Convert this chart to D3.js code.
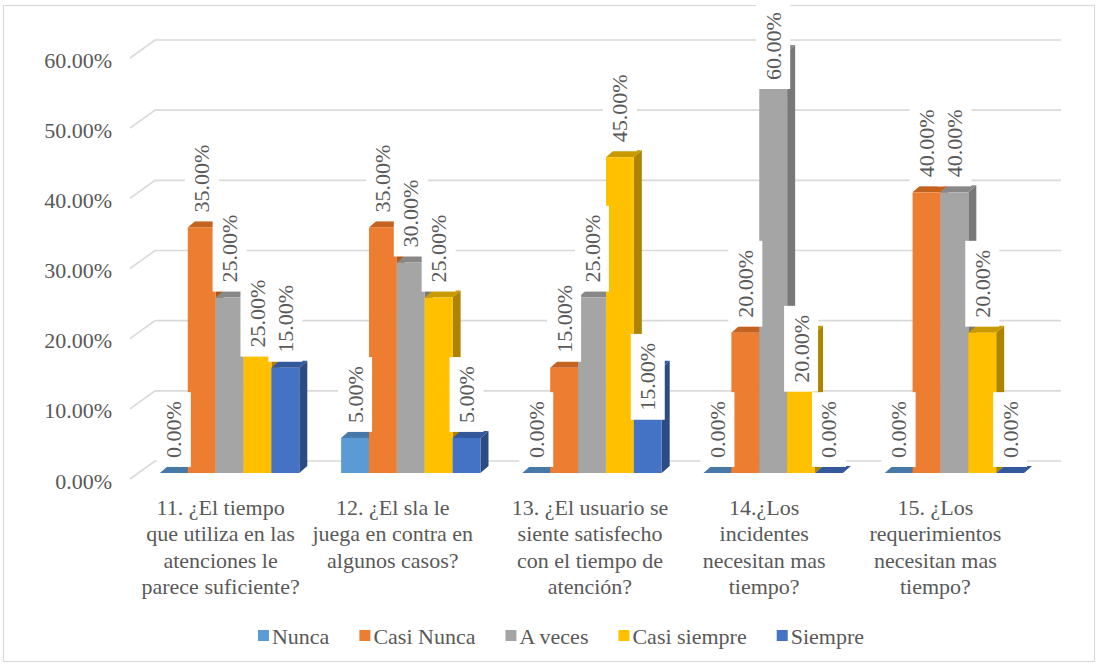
<!DOCTYPE html>
<html>
<head>
<meta charset="utf-8">
<script src="https://cdn.jsdelivr.net/npm/d3@7"></script>
<style>
  body { margin: 0; background: #fff; }
  svg { display: block; }
  svg text { font-family: "Liberation Serif", "DejaVu Serif", serif !important; fill: #595959; }
</style>
</head>
<body>
<svg id="chart" width="1099" height="666" font-family="Liberation Serif, DejaVu Serif, serif"></svg>
<script>
// ---- data ----
const categories = [
  "11. ¿El tiempo que utiliza en las atenciones le parece suficiente?",
  "12. ¿El sla le juega en contra en algunos casos?",
  "13. ¿El usuario se siente satisfecho con el tiempo de atención?",
  "14.¿Los incidentes necesitan mas tiempo?",
  "15. ¿Los requerimientos necesitan mas tiempo?"
];
const categoryLines = [
  ["11. ¿El tiempo", "que utiliza en las", "atenciones le", "parece suficiente?"],
  ["12. ¿El sla le", "juega en contra en", "algunos casos?"],
  ["13. ¿El usuario se", "siente satisfecho", "con el tiempo de", "atención?"],
  ["14.¿Los", "incidentes", "necesitan mas", "tiempo?"],
  ["15. ¿Los", "requerimientos", "necesitan mas", "tiempo?"]
];
const seriesNames = ["Nunca", "Casi Nunca", "A veces", "Casi siempre", "Siempre"];
const nunca       = [0, 5, 0, 0, 0];
const casiNunca   = [35, 35, 15, 20, 40];
const aVeces      = [25, 30, 25, 60, 40];
const casiSiempre = [25, 25, 45, 20, 20];
const siempre     = [15, 5, 15, 0, 0];
const tickValues  = [0, 10, 20, 30, 40, 50, 60];

const seriesValues = [nunca, casiNunca, aVeces, casiSiempre, siempre];

// ---- styling / layout ----
const FONT = '"Liberation Serif", "DejaVu Serif", serif';
const colors = [
  { front: "#5B9BD5", top: "#4679A8", side: "#3E6D98" },
  { front: "#ED7D31", top: "#C4621F", side: "#AE5719" },
  { front: "#A5A5A5", top: "#888888", side: "#787878" },
  { front: "#FFC000", top: "#C99900", side: "#AD8300" },
  { front: "#4472C4", top: "#33589B", side: "#2C4B83" }
];
// a few labels were dragged down from their default place (group-series -> px)
const labelNudge = { "0-3": 65, "2-4": 58, "3-2": 43, "3-3": 65 };
// horizontal shift of each wrapped category label block
const categoryLabelShift = [0, -9, 7, 0, -10];

const svg = d3.select("#chart");

// outer frame
svg.append("rect")
  .attr("x", 3.5).attr("y", 5.5).attr("width", 1091).attr("height", 656)
  .attr("fill", "#fff").attr("stroke", "#D9D9D9").attr("stroke-width", 1.2);

const frontLeft = 130, frontRight = 1036;
const wallDX = 25, wallDY = -18;          // back wall offset
const barFX = 9, barFY = -6;              // bar front face offset from front plane
const barDX = 8, barDY = -7;              // bar depth

const y = d3.scaleLinear().domain([0, 60]).range([479, 58]);
const x0 = d3.scaleBand().domain(d3.range(categories.length)).range([frontLeft, frontRight]).padding(0);
const x1 = d3.scaleBand().domain(d3.range(seriesNames.length)).range([0, x0.bandwidth()])
  .paddingInner(0).paddingOuter(0.75);

// back wall gridlines with the side-wall diagonal
const grid = svg.append("g");
tickValues.forEach(t => {
  const yf = y(t);
  grid.append("path")
    .attr("d", `M${frontLeft},${yf} L${frontLeft + wallDX},${yf + wallDY} L${frontRight + wallDX},${yf + wallDY}`)
    .attr("fill", "none").attr("stroke", "#D9D9D9").attr("stroke-width", 1.6);
});

// y axis labels
const fmt = d3.format(".2f");
const yAxis = d3.axisLeft(y).tickValues(tickValues).tickFormat(d => fmt(d) + "%").tickSize(0).tickPadding(0);
const yg = svg.append("g").attr("transform", `translate(112,2)`).call(yAxis);
yg.attr("font-family", FONT).attr("font-size", 22);
yg.select(".domain").remove();
yg.selectAll("text").attr("fill", "#595959");

// bars
const bars = svg.append("g");
categories.forEach((c, ci) => {
  seriesNames.forEach((s, si) => {
    const v = seriesValues[si][ci];
    const w = x1.bandwidth();
    const xl = x0(ci) + x1(si) + barFX;
    const yb = y(0) + barFY;
    const yt = y(v) + barFY;
    const col = colors[si];
    if (v > 0) {
      bars.append("path")
        .attr("d", `M${xl + w},${yt} L${xl + w + barDX},${yt + barDY} L${xl + w + barDX},${yb + barDY} L${xl + w},${yb} Z`)
        .attr("fill", col.side);
    }
    bars.append("path")
      .attr("d", `M${xl},${yt} L${xl + w},${yt} L${xl + w + barDX},${yt + barDY} L${xl + barDX},${yt + barDY} Z`)
      .attr("fill", col.top);
    if (v > 0) {
      bars.append("rect")
        .attr("x", xl).attr("y", yt).attr("width", w).attr("height", yb - yt)
        .attr("fill", col.front);
    }
  });
});

// data labels (rotated, on white boxes)
const labels = svg.append("g").attr("font-family", FONT);
seriesNames.forEach((s, si) => {
  categories.forEach((c, ci) => {
    const v = seriesValues[si][ci];
    const w = x1.bandwidth();
    const cx = x0(ci) + x1(si) + barFX + w / 2;
    const bottom = y(v) + barFY - 15 + (labelNudge[ci + "-" + si] || 0);
    const g = labels.append("g").attr("transform", `translate(${cx},${bottom}) rotate(-90)`);
    const box = g.append("rect").attr("fill", "#fff");
    const t = g.append("text")
      .attr("x", 0).attr("y", 0)
      .attr("dominant-baseline", "central")
      .attr("font-size", 22)
      .text(fmt(v) + "%");
    const len = t.node().getComputedTextLength();
    box.attr("x", -9).attr("y", -17).attr("width", len + 18).attr("height", 34);
  });
});

// category labels
const catG = svg.append("g").attr("font-family", FONT);
categoryLines.forEach((lines, ci) => {
  const cx = x0(ci) + x0.bandwidth() / 2 + categoryLabelShift[ci];
  const t = catG.append("text").attr("text-anchor", "middle").attr("font-size", 22);
  lines.forEach((ln, li) => {
    t.append("tspan").attr("x", cx).attr("y", 515 + li * 26.4).text(ln);
  });
});

// legend
const legend = svg.append("g").attr("font-family", FONT);
let lx = 0;
seriesNames.forEach((s, si) => {
  const g = legend.append("g");
  g.append("rect").attr("x", lx).attr("y", -6).attr("width", 11).attr("height", 11).attr("fill", colors[si].front);
  const t = g.append("text").attr("x", lx + 14).attr("y", 0).attr("dominant-baseline", "central")
    .attr("font-size", 22).text(s);
  lx += 14 + t.node().getComputedTextLength() + 30;
});
const legendW = lx - 30;
legend.attr("transform", `translate(${561 - legendW / 2},636)`);
</script>
</body>
</html>
